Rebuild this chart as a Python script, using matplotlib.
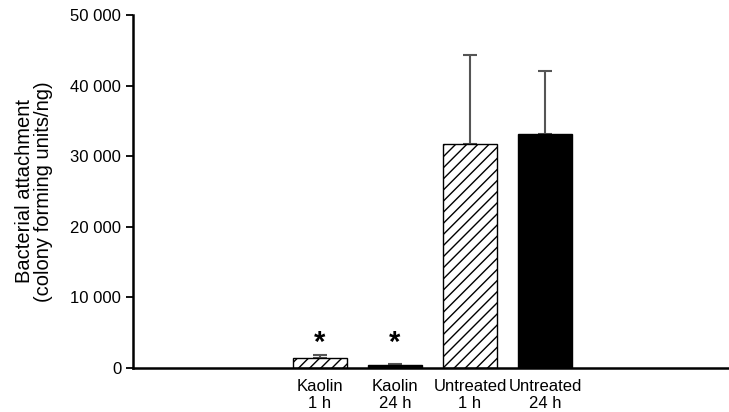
import matplotlib
matplotlib.use("Agg")
import matplotlib.pyplot as plt

plt.rcParams['font.family'] = ['Liberation Sans', 'DejaVu Sans']
plt.rcParams['hatch.linewidth'] = 1.0

categories = ["Kaolin\n1 h", "Kaolin\n24 h", "Untreated\n1 h", "Untreated\n24 h"]
values = [1400, 450, 31700, 33100]
errors = [450, 150, 12600, 9000]
hatched = [True, False, True, False]
significant = [True, True, False, False]
yticks = [0, 10000, 20000, 30000, 40000, 50000]
ytick_labels = ["0", "10 000", "20 000", "30 000", "40 000", "50 000"]

fig = plt.figure(figsize=(7.29, 4.12), dpi=100)
ax = fig.add_axes([0.1824, 0.1068, 0.8176, 0.8568])

x = list(range(1, len(categories) + 1))
for xi, v, e, h in zip(x, values, errors, hatched):
    ax.bar(xi, v, width=0.72, color='white' if h else 'black', edgecolor='black',
           hatch='///' if h else None, linewidth=1.0, zorder=2)
    ax.errorbar(xi, v, yerr=[[0], [e]], fmt='none', ecolor='#555555',
                elinewidth=1.5, capsize=5, capthick=1.5, zorder=1)

for xi, v, e, s in zip(x, values, errors, significant):
    if s:
        ax.text(xi, 1500, "*", ha='center', va='bottom', fontsize=21, fontweight='bold')

ax.set_xlim(-1.49, 6.45)
ax.set_ylim(0, 50000)
ax.set_yticks(yticks)
ax.set_yticklabels(ytick_labels, fontsize=12)
ax.set_xticks(x)
ax.set_xticklabels(categories, fontsize=12, linespacing=1.12)
ax.tick_params(axis='x', length=0, pad=8)
ax.tick_params(axis='y', length=5, width=1.3, direction='out')
for sp in ['top', 'right']:
    ax.spines[sp].set_visible(False)
for sp in ['left', 'bottom']:
    ax.spines[sp].set_linewidth(1.8)
ax.set_ylabel("Bacterial attachment\n(colony forming units/ng)", fontsize=14.5,
              labelpad=12, linespacing=1.05)

fig.savefig("out.png", dpi=100)
